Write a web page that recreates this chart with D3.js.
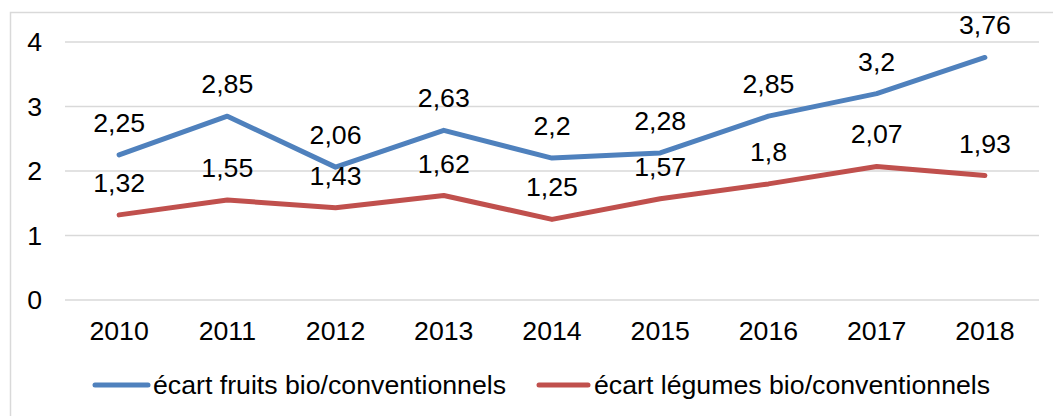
<!DOCTYPE html>
<html><head><meta charset="utf-8">
<script src="https://cdn.jsdelivr.net/npm/d3@7"></script>
<style>
html,body{margin:0;padding:0;background:#fff;}
svg text{font-family:"Liberation Sans",Arial,sans-serif;fill:#000;}
</style></head>
<body>
<svg id="c" width="1053" height="416"></svg>
<script>
const years = ["2010","2011","2012","2013","2014","2015","2016","2017","2018"];
const fruits = [2.25,2.85,2.06,2.63,2.2,2.28,2.85,3.2,3.76];
const legumes = [1.32,1.55,1.43,1.62,1.25,1.57,1.8,2.07,1.93];
const yTicks = [0,1,2,3,4];
const seriesNames = ["écart fruits bio/conventionnels","écart légumes bio/conventionnels"];
const colors = ["#4F81BD","#C0504D"];

const svg = d3.select("#c");
const fs = 26.7;
// chart border
svg.append("rect").attr("x",10.5).attr("y",12.5).attr("width",1050).attr("height",420)
  .attr("fill","none").attr("stroke","#D9D9D9").attr("stroke-width",1.5);

const x = d3.scaleBand().domain(years).range([65,1039]);
const y = d3.scaleLinear().domain([0,4]).range([300,42]);

// gridlines
svg.append("g").selectAll("line").data(yTicks).join("line")
  .attr("x1",65).attr("x2",1039)
  .attr("y1",d=>y(d)).attr("y2",d=>y(d))
  .attr("stroke","#D9D9D9").attr("stroke-width",1.5);

// y axis labels
const yAxis = d3.axisLeft(y).tickValues(yTicks).tickSize(0).tickPadding(0).tickFormat(d3.format("d"));
const yg = svg.append("g").attr("transform","translate(42,0)").call(yAxis);
yg.select(".domain").remove();
yg.selectAll("text").attr("font-size",fs).attr("font-family","Liberation Sans, Arial, sans-serif").attr("fill","#000");

// x axis labels
const xAxis = d3.axisBottom(x).tickSize(0).tickPadding(0);
const xg = svg.append("g").attr("transform","translate(0,321)").call(xAxis);
xg.select(".domain").remove();
xg.selectAll("text").attr("font-size",fs).attr("font-family","Liberation Sans, Arial, sans-serif").attr("fill","#000");

const cx = d => x(d)+x.bandwidth()/2;
const line = d3.line().x((d,i)=>cx(years[i])).y(d=>y(d));
const fmt = v => String(v).replace(".",",");

[fruits,legumes].forEach((s,k)=>{
  svg.append("path").datum(s).attr("d",line).attr("fill","none")
    .attr("stroke",colors[k]).attr("stroke-width",5).attr("stroke-linecap","round").attr("stroke-linejoin","round");
});
[fruits,legumes].forEach((s,k)=>{
  svg.append("g").selectAll("text").data(s).join("text")
    .attr("x",(d,i)=>cx(years[i])).attr("y",d=>y(d)-23)
    .attr("text-anchor","middle").attr("font-size",fs).text(fmt);
});

// legend
const leg = [{x1:93,x2:150,tx:153},{x1:537,x2:590,tx:594}];
leg.forEach((l,k)=>{
  svg.append("line").attr("x1",l.x1+2).attr("x2",l.x2-2).attr("y1",385).attr("y2",385)
    .attr("stroke",colors[k]).attr("stroke-width",5).attr("stroke-linecap","round");
  svg.append("text").attr("x",l.tx).attr("y",385).attr("dy","0.35em").attr("font-size",fs).text(seriesNames[k]);
});
</script>
</body></html>
